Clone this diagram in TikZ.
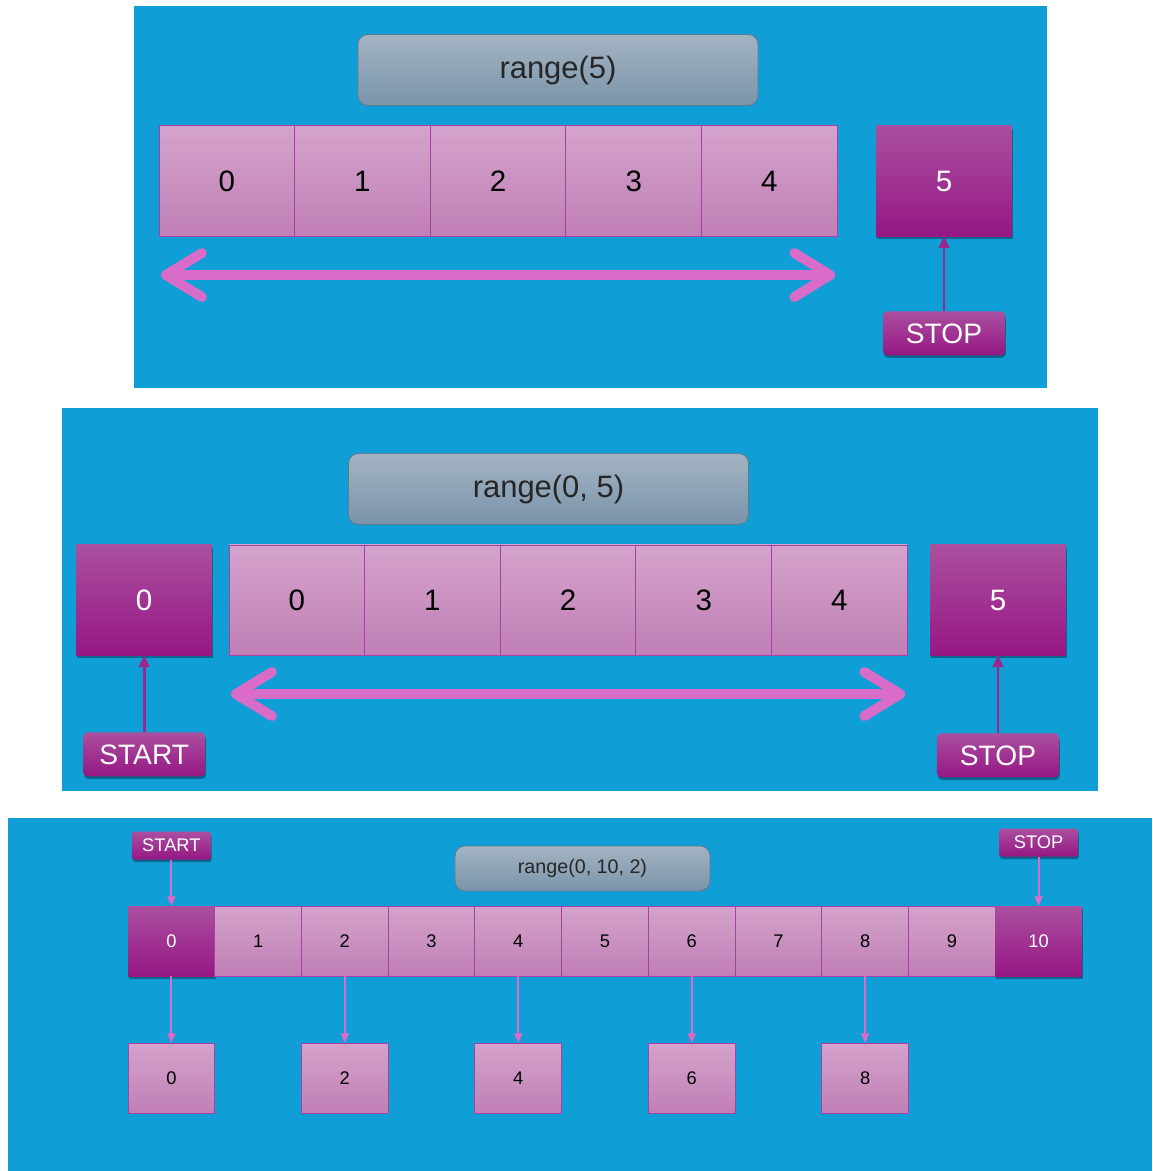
\documentclass[tikz,border=0pt]{standalone}
\usepackage{fontspec}
\setmainfont{Liberation Sans}
\usetikzlibrary{arrows.meta, positioning, calc, shadows}
\definecolor{PanelBlue}{HTML}{109ED6}
\definecolor{CellTop}{HTML}{D4A3CC}
\definecolor{CellBot}{HTML}{C07FB5}
\definecolor{CellEdge}{HTML}{A940A8}
\definecolor{BoxTop}{HTML}{AA4F9F}
\definecolor{BoxBot}{HTML}{961784}
\definecolor{GreyTop}{HTML}{A3B4C2}
\definecolor{GreyBot}{HTML}{7A94AB}
\definecolor{GreyEdge}{HTML}{5D7A90}
\definecolor{SpanPink}{HTML}{D86CC8}
\definecolor{TagLine}{HTML}{9C2690}

\begin{document}
\begin{tikzpicture}[
    x=0.025cm, y=-0.025cm,
    cell/.style={rectangle, draw=CellEdge, line width=0.7pt, top color=CellTop, bottom color=CellBot, inner sep=0pt, outer sep=0pt, minimum width=3.39cm, minimum height=2.75cm, font=\fontsize{21}{25}\selectfont},
    smallcell/.style={cell, minimum width=2.1675cm, minimum height=1.75cm, font=\fontsize{13}{16}\selectfont},
    dark/.style={draw=none, top color=BoxTop, bottom color=BoxBot, text=white, drop shadow={shadow xshift=0.6pt, shadow yshift=-1.8pt, opacity=0.35, fill=black}},
    tagbox/.style={rectangle, rounded corners=3pt, top color=BoxTop, bottom color=BoxBot, text=white, inner sep=0pt, minimum width=3.05cm, minimum height=1.1cm, font=\fontsize{20}{24}\selectfont, drop shadow={shadow xshift=0.6pt, shadow yshift=-1.8pt, opacity=0.35, fill=black}},
    smalltag/.style={tagbox, rounded corners=2pt, minimum width=1.975cm, minimum height=0.7cm, font=\fontsize{13}{16}\selectfont},
    rangebox/.style={rectangle, rounded corners=7pt, draw=GreyEdge, line width=0.6pt, top color=GreyTop, bottom color=GreyBot, text=black!85, inner sep=0pt, minimum width=10cm, minimum height=1.775cm, font=\fontsize{22}{26}\selectfont},
    span/.style={line width=7pt, SpanPink, {Straight Barb[round, length=9mm, width=11mm]}-{Straight Barb[round, length=9mm, width=11mm]}},
    pointer/.style={line width=2pt, TagLine, -{Triangle[length=3mm, width=2.6mm]}},
    pick/.style={line width=1.5pt, SpanPink, -{Triangle[length=2.4mm, width=2mm]}}
]
\useasboundingbox (0,0) rectangle (1152,1171);
\fill[white] (0,0) rectangle (1152,1171);

% range(5)
\fill[PanelBlue] (134,6) rectangle (1047,388);
\node[rangebox] (r1) at (558,70) {range(5)};
\node[cell, anchor=west] (a0) at (159,181) {0};
\node[cell, right=0pt of a0] (a1) {1};
\node[cell, right=0pt of a1] (a2) {2};
\node[cell, right=0pt of a2] (a3) {3};
\node[cell, right=0pt of a3] (a4) {4};
\node[cell, dark, right=0.975cm of a4] (a5) {5};
\node[tagbox, below=1.875cm of a5] (s1) {STOP};
\draw[span] ($(a0.south west)+(2,39)$) -- ($(a4.south east)+(-2,39)$);
\draw[pointer] (s1) -- (a5);

% range(0, 5)
\fill[PanelBlue] (62,408) rectangle (1098,791);
\node[rangebox] (r2) at (548.5,489) {range(0, 5)};
\node[cell, anchor=west] (b0) at (229,600) {0};
\node[cell, right=0pt of b0] (b1) {1};
\node[cell, right=0pt of b1] (b2) {2};
\node[cell, right=0pt of b2] (b3) {3};
\node[cell, right=0pt of b3] (b4) {4};
\node[cell, dark, left=0.425cm of b0] (bl) {0};
\node[cell, dark, right=0.575cm of b4] (br) {5};
\node[tagbox, below=1.925cm of bl] (t2) {START};
\node[tagbox, below=1.95cm of br] (s2) {STOP};
\draw[span] ($(b0.south west)+(2,39)$) -- ($(b4.south east)+(-2,39)$);
\draw[pointer] (t2) -- (bl);
\draw[pointer] (s2) -- (br);

% range(0, 10, 2)
\fill[PanelBlue] (8,818) rectangle (1152,1171);
\node[rangebox, minimum width=6.375cm, minimum height=1.125cm, font=\fontsize{14}{17}\selectfont] (r3) at (582.5,868.5) {range(0, 10, 2)};
\node[smallcell, dark, anchor=west] (c0) at (128,941) {0};
\foreach \i [remember=\i as \prev (initially 0)] in {1,...,9}
    \node[smallcell, right=0pt of c\prev] (c\i) {\i};
\node[smallcell, dark, right=0pt of c9] (c10) {10};
\node[smalltag, above=1.15cm of c0] (t3) {START};
\node[smalltag, above=1.225cm of c10] (s3) {STOP};
\draw[pick] (t3) -- (c0);
\draw[pick] (s3) -- (c10);
\foreach \i in {0,2,4,6,8} {
    \node[smallcell, below=1.675cm of c\i] (o\i) {\i};
    \draw[pick] (c\i) -- (o\i);
}
\end{tikzpicture}
\end{document}
